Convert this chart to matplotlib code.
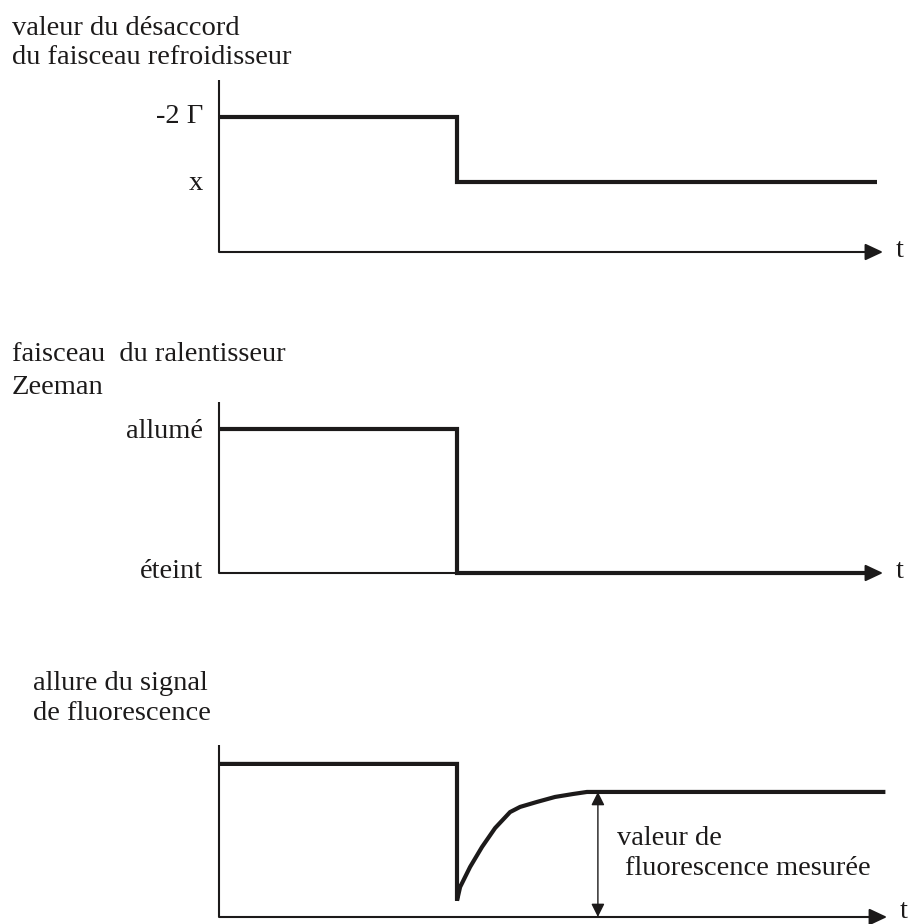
import matplotlib
matplotlib.use('Agg')
import matplotlib.pyplot as plt

# taille de la figure (pixels)
W, H = 912, 924
INK = '#1c1a1a'
FONT = 'Liberation Serif'
FS = 20.5

# echelle commune des temps : 1 unite = duree avant la coupure
PX_PER_T = 238.0
T_MAX = 2.83

# --- donnees ---
# desaccord du faisceau refroidisseur
detune_t = [0.0, 1.0, 1.0, 2.765]
detune_v = [0.785, 0.785, 0.407, 0.407]
detune_ticks = [0.785, 0.407]
detune_labels = ['-2 \u0393', 'x']

# faisceau du ralentisseur Zeeman
zeeman_t = [0.0, 1.0, 1.0, 2.765]
zeeman_v = [0.842, 0.842, 0.0, 0.0]
zeeman_ticks = [0.842, 0.0]
zeeman_labels = ['allum\u00e9', '\u00e9teint']

# signal de fluorescence
fluo_t = [0.0, 1.0, 1.0, 1.013, 1.055, 1.105, 1.160, 1.223, 1.265,
          1.336, 1.412, 1.487, 1.546, 2.80]
fluo_v = [0.890, 0.890, 0.095, 0.174, 0.291, 0.407, 0.517, 0.610, 0.640,
          0.669, 0.698, 0.715, 0.727, 0.727]
fluo_measure_t = 1.592
fluo_measure_v = 0.727


def fx(px):
    return px / W


def fy(py):
    return 1 - py / H


def make_axes(fig, axis_py, height_px):
    ax = fig.add_axes([fx(219), fy(axis_py), T_MAX * PX_PER_T / W, height_px / H])
    ax.set_xlim(0, T_MAX)
    ax.set_ylim(0, 1)
    ax.axis('off')
    # axe vertical
    ax.plot([0, 0], [0, 1], color=INK, lw=1.5, clip_on=False, solid_capstyle='butt')
    return ax


def time_axis(ax, tip, dy=5):
    ax.annotate('', xy=(tip, 0), xytext=(0, 0), annotation_clip=False,
                arrowprops=dict(arrowstyle='-|>,head_length=1.0,head_width=0.47',
                                mutation_scale=10.8, lw=1.5, color=INK,
                                shrinkA=0, shrinkB=0))
    ax.annotate('t', xy=(tip, 0), xytext=(13, -dy), textcoords='offset pixels',
                ha='left', va='baseline', fontsize=FS, family=FONT, color=INK,
                annotation_clip=False)


def signal(ax, t, v):
    ax.plot(t, v, color=INK, lw=3.0, clip_on=False,
            solid_joinstyle='miter', solid_capstyle='butt')


def level_labels(ax, levels, labels, dys):
    for lev, lab, dy in zip(levels, labels, dys):
        ax.annotate(lab, xy=(0, lev), xytext=(-16, -dy), textcoords='offset pixels',
                    ha='right', va='baseline', fontsize=FS, family=FONT, color=INK,
                    annotation_clip=False)


def title(fig, x, lines):
    for text, base in lines:
        fig.text(fx(x), fy(base), text, ha='left', va='baseline',
                 fontsize=FS, family=FONT, color=INK)


fig = plt.figure(figsize=(W / 100, H / 100), dpi=100)

# panneau 1
ax1 = make_axes(fig, 252, 172)
signal(ax1, detune_t, detune_v)
time_axis(ax1, 2.79)
level_labels(ax1, detune_ticks, detune_labels, [6, 8])
title(fig, 12, [('valeur du d\u00e9saccord', 35), ('du faisceau refroidisseur', 64)])

# panneau 2
ax2 = make_axes(fig, 573, 171)
time_axis(ax2, 2.79)
signal(ax2, zeeman_t, zeeman_v)
level_labels(ax2, zeeman_ticks, zeeman_labels, [9, 5])
title(fig, 12, [('faisceau  du ralentisseur', 361), ('Zeeman', 394)])

# panneau 3
ax3 = make_axes(fig, 917, 172)
signal(ax3, fluo_t, fluo_v)
time_axis(ax3, 2.807, dy=1)
ax3.annotate('', xy=(fluo_measure_t, fluo_measure_v), xytext=(fluo_measure_t, 0),
             annotation_clip=False,
             arrowprops=dict(arrowstyle='<|-|>,head_length=1.0,head_width=0.5',
                             mutation_scale=8, lw=1.0, color=INK,
                             shrinkA=0, shrinkB=0))
fig.text(fx(617), fy(845), 'valeur de', ha='left', va='baseline',
         fontsize=FS, family=FONT, color=INK)
fig.text(fx(625), fy(875), 'fluorescence mesur\u00e9e', ha='left', va='baseline',
         fontsize=FS, family=FONT, color=INK)
title(fig, 33, [('allure du signal', 690), ('de fluorescence', 720)])

fig.savefig('out.png', dpi=100, facecolor='white')
